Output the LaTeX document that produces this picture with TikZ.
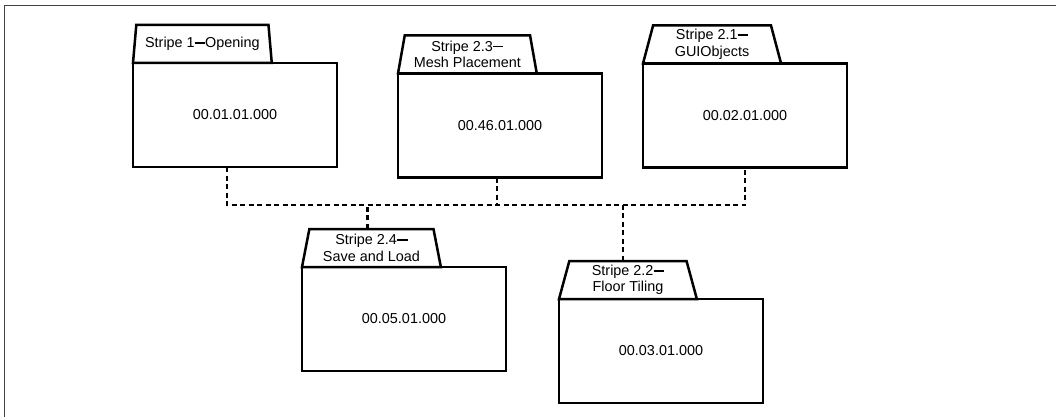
\documentclass[tikz,border=0pt]{standalone}
\usepackage{fontspec}
\setmainfont{Liberation Sans}
\usetikzlibrary{shapes.geometric}

\newcommand{\stripedash}{\rule[3.9pt]{10.5pt}{1.8pt}}

\begin{document}
\begin{tikzpicture}[x=1pt, y=-1pt,
        every node/.style={font=\fontsize{14.4}{16.5}\selectfont},
        pkg/.style={draw, line width=2.5pt, rectangle, inner sep=0pt, outer sep=0pt,
            minimum width=204pt, minimum height=104pt},
        pkgtab/.style={draw, line width=2.5pt, trapezium, trapezium stretches=true,
            trapezium left angle=78, trapezium right angle=78, inner sep=0pt, outer sep=0pt,
            minimum width=139pt, minimum height=38pt, align=center, anchor=bottom left corner},
        conn/.style={line width=2.5pt, dash pattern=on 5pt off 3.5pt}]
                \useasboundingbox (0,0) rectangle (1056,417);
                \draw[line width=1.8pt, black!75] (4.5,417) -- (4.5,5.5) -- (1056,5.5);

                \coordinate (bus) at (0,205);

                \node[pkg] (opening) at (235,115) {00.01.01.000};
                \node[pkg] (mesh) at (500,125.5) {00.46.01.000};
                \node[pkg] (gui) at (745,115.5) {00.02.01.000};
                \node[pkg] (saveload) at (404,319) {00.05.01.000};
                \node[pkg] (floor) at (661,351) {00.03.01.000};

                \node[pkgtab] (opening-tab) at (opening.north west) {Stripe 1\stripedash Opening};
                \node[pkgtab] (mesh-tab) at (mesh.north west) {Stripe 2.3\stripedash\\Mesh Placement};
                \node[pkgtab] (gui-tab) at (gui.north west) {Stripe 2.1\stripedash\\GUIObjects};
                \node[pkgtab] (saveload-tab) at (saveload.north west) {Stripe 2.4\stripedash\\Save and Load};
                \node[pkgtab] (floor-tab) at (floor.north west) {Stripe 2.2\stripedash\\Floor Tiling};

                \draw[conn] ([xshift=-8pt]opening.south) |- (bus -| gui.south) -- (gui.south);
                \draw[conn] ([xshift=-3pt]mesh.south) -- ([xshift=-3pt]mesh.south |- bus);
                \draw[conn] ([xshift=-4pt]saveload-tab.north) -- ([xshift=-4pt]saveload-tab.north |- bus);
                \draw[conn] ([xshift=-5pt]floor-tab.north) -- ([xshift=-5pt]floor-tab.north |- bus);
            \end{tikzpicture}
\end{document}
